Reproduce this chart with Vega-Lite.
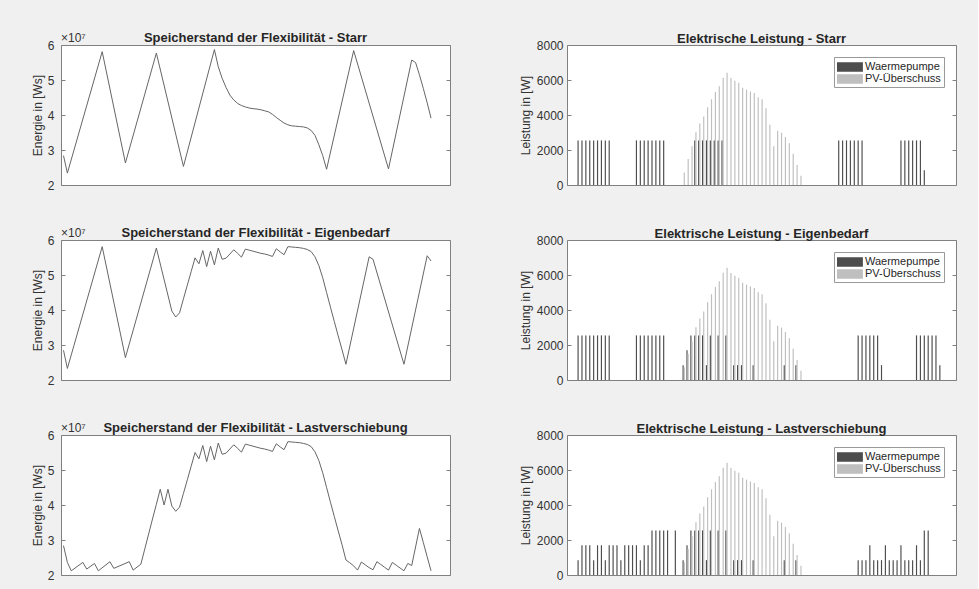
{
  "$schema": "https://vega.github.io/schema/vega-lite/v6.json",
  "background": "#f0f0f0",
  "padding": {"left": 30, "top": 31, "right": 21, "bottom": 14},
  "columns": 2,
  "spacing": {"row": 55, "column": 117},
  "bounds": "flush",
  "datasets": {
    "sp_starr": [
      {"k":1,"E":2.84e7},{"k":2,"E":2.34e7},{"k":11,"E":5.81e7},{"k":17,"E":2.63e7},{"k":25,"E":5.77e7},{"k":32,"E":2.53e7},{"k":40,"E":5.87e7},
      {"k":41,"E":5.38e7},{"k":42,"E":5.05e7},{"k":43,"E":4.79e7},{"k":44,"E":4.57e7},{"k":45,"E":4.43e7},{"k":46,"E":4.33e7},{"k":47,"E":4.27e7},{"k":48,"E":4.23e7},{"k":49,"E":4.20e7},{"k":50,"E":4.18e7},{"k":51,"E":4.17e7},{"k":52,"E":4.15e7},{"k":53,"E":4.12e7},{"k":54,"E":4.09e7},{"k":55,"E":4.02e7},{"k":56,"E":3.93e7},{"k":57,"E":3.85e7},{"k":58,"E":3.77e7},{"k":59,"E":3.72e7},{"k":60,"E":3.69e7},{"k":61,"E":3.68e7},{"k":62,"E":3.67e7},{"k":63,"E":3.66e7},{"k":64,"E":3.63e7},{"k":65,"E":3.56e7},{"k":66,"E":3.42e7},{"k":67,"E":3.15e7},{"k":68,"E":2.84e7},{"k":69,"E":2.45e7},
      {"k":76,"E":5.84e7},{"k":85,"E":2.46e7},{"k":91,"E":5.57e7},{"k":92,"E":5.50e7},{"k":93,"E":5.15e7},{"k":94,"E":4.76e7},{"k":95,"E":4.35e7},{"k":96,"E":3.91e7}
    ],
    "sp_eigen": [
      {"k":1,"E":2.85e7},{"k":2,"E":2.33e7},{"k":11,"E":5.81e7},{"k":17,"E":2.64e7},{"k":25,"E":5.77e7},{"k":29,"E":3.97e7},{"k":30,"E":3.80e7},{"k":31,"E":3.92e7},{"k":32,"E":4.32e7},{"k":33,"E":4.71e7},{"k":34,"E":5.10e7},{"k":35,"E":5.49e7},
      {"k":36,"E":5.32e7},{"k":37,"E":5.70e7},{"k":38,"E":5.24e7},{"k":39,"E":5.68e7},{"k":40,"E":5.29e7},{"k":41,"E":5.77e7},{"k":42,"E":5.45e7},{"k":43,"E":5.48e7},{"k":44,"E":5.60e7},{"k":45,"E":5.72e7},{"k":46,"E":5.62e7},{"k":47,"E":5.51e7},{"k":48,"E":5.74e7},
      {"k":49,"E":5.71e7},{"k":50,"E":5.68e7},{"k":51,"E":5.65e7},{"k":52,"E":5.62e7},{"k":53,"E":5.60e7},{"k":54,"E":5.57e7},{"k":55,"E":5.53e7},{"k":56,"E":5.75e7},{"k":57,"E":5.66e7},{"k":58,"E":5.58e7},{"k":59,"E":5.81e7},
      {"k":60,"E":5.80e7},{"k":61,"E":5.79e7},{"k":62,"E":5.78e7},{"k":63,"E":5.76e7},{"k":64,"E":5.73e7},{"k":65,"E":5.67e7},{"k":66,"E":5.52e7},{"k":67,"E":5.27e7},{"k":68,"E":4.92e7},{"k":69,"E":4.50e7},{"k":70,"E":4.08e7},{"k":71,"E":3.67e7},{"k":72,"E":3.26e7},{"k":73,"E":2.86e7},{"k":74,"E":2.45e7},
      {"k":80,"E":5.52e7},{"k":81,"E":5.45e7},{"k":89,"E":2.45e7},{"k":95,"E":5.55e7},{"k":96,"E":5.40e7}
    ],
    "sp_last": [
      {"k":1,"E":2.84e7},{"k":2,"E":2.36e7},{"k":3,"E":2.12e7},{"k":6,"E":2.36e7},{"k":7,"E":2.17e7},{"k":9,"E":2.33e7},{"k":10,"E":2.12e7},{"k":13,"E":2.38e7},{"k":14,"E":2.19e7},{"k":18,"E":2.38e7},{"k":19,"E":2.14e7},{"k":21,"E":2.31e7},
      {"k":22,"E":2.74e7},{"k":23,"E":3.17e7},{"k":24,"E":3.60e7},{"k":25,"E":4.02e7},{"k":26,"E":4.45e7},{"k":27,"E":4.00e7},{"k":28,"E":4.45e7},{"k":29,"E":3.97e7},{"k":30,"E":3.82e7},{"k":31,"E":3.94e7},
      {"k":32,"E":4.33e7},{"k":33,"E":4.72e7},{"k":34,"E":5.11e7},{"k":35,"E":5.50e7},
      {"k":36,"E":5.32e7},{"k":37,"E":5.70e7},{"k":38,"E":5.24e7},{"k":39,"E":5.68e7},{"k":40,"E":5.29e7},{"k":41,"E":5.77e7},{"k":42,"E":5.45e7},{"k":43,"E":5.48e7},{"k":44,"E":5.60e7},{"k":45,"E":5.72e7},{"k":46,"E":5.62e7},{"k":47,"E":5.51e7},{"k":48,"E":5.74e7},
      {"k":49,"E":5.71e7},{"k":50,"E":5.68e7},{"k":51,"E":5.65e7},{"k":52,"E":5.62e7},{"k":53,"E":5.60e7},{"k":54,"E":5.57e7},{"k":55,"E":5.53e7},{"k":56,"E":5.75e7},{"k":57,"E":5.66e7},{"k":58,"E":5.58e7},{"k":59,"E":5.81e7},
      {"k":60,"E":5.80e7},{"k":61,"E":5.79e7},{"k":62,"E":5.78e7},{"k":63,"E":5.76e7},{"k":64,"E":5.73e7},{"k":65,"E":5.67e7},{"k":66,"E":5.52e7},{"k":67,"E":5.27e7},{"k":68,"E":4.92e7},{"k":69,"E":4.50e7},{"k":70,"E":4.08e7},{"k":71,"E":3.67e7},{"k":72,"E":3.26e7},{"k":73,"E":2.86e7},{"k":74,"E":2.43e7},
      {"k":75,"E":2.35e7},{"k":76,"E":2.26e7},{"k":77,"E":2.14e7},{"k":78,"E":2.37e7},{"k":79,"E":2.29e7},{"k":80,"E":2.21e7},{"k":81,"E":2.15e7},{"k":82,"E":2.38e7},{"k":83,"E":2.30e7},{"k":84,"E":2.22e7},{"k":85,"E":2.14e7},{"k":86,"E":2.36e7},{"k":87,"E":2.28e7},{"k":88,"E":2.20e7},{"k":89,"E":2.12e7},{"k":90,"E":2.33e7},{"k":91,"E":2.27e7},{"k":92,"E":2.80e7},{"k":93,"E":3.33e7},{"k":94,"E":2.93e7},{"k":95,"E":2.52e7},{"k":96,"E":2.12e7}
    ],
    "p_starr": [
      {"k":3,"serie":"Waermepumpe","P":2550},{"k":4,"serie":"Waermepumpe","P":2550},{"k":5,"serie":"Waermepumpe","P":2550},{"k":6,"serie":"Waermepumpe","P":2550},{"k":7,"serie":"Waermepumpe","P":2550},{"k":8,"serie":"Waermepumpe","P":2550},{"k":9,"serie":"Waermepumpe","P":2550},{"k":10,"serie":"Waermepumpe","P":2550},{"k":11,"serie":"Waermepumpe","P":2550},
      {"k":18,"serie":"Waermepumpe","P":2550},{"k":19,"serie":"Waermepumpe","P":2550},{"k":20,"serie":"Waermepumpe","P":2550},{"k":21,"serie":"Waermepumpe","P":2550},{"k":22,"serie":"Waermepumpe","P":2550},{"k":23,"serie":"Waermepumpe","P":2550},{"k":24,"serie":"Waermepumpe","P":2550},{"k":25,"serie":"Waermepumpe","P":2550},
      {"k":33,"serie":"Waermepumpe","P":2550},{"k":34,"serie":"Waermepumpe","P":2550},{"k":35,"serie":"Waermepumpe","P":2550},{"k":36,"serie":"Waermepumpe","P":2550},{"k":37,"serie":"Waermepumpe","P":2550},{"k":38,"serie":"Waermepumpe","P":2550},{"k":39,"serie":"Waermepumpe","P":2550},{"k":40,"serie":"Waermepumpe","P":2550},
      {"k":70,"serie":"Waermepumpe","P":2550},{"k":71,"serie":"Waermepumpe","P":2550},{"k":72,"serie":"Waermepumpe","P":2550},{"k":73,"serie":"Waermepumpe","P":2550},{"k":74,"serie":"Waermepumpe","P":2550},{"k":75,"serie":"Waermepumpe","P":2550},{"k":76,"serie":"Waermepumpe","P":2550},
      {"k":86,"serie":"Waermepumpe","P":2550},{"k":87,"serie":"Waermepumpe","P":2550},{"k":88,"serie":"Waermepumpe","P":2550},{"k":89,"serie":"Waermepumpe","P":2550},{"k":90,"serie":"Waermepumpe","P":2550},{"k":91,"serie":"Waermepumpe","P":2550},{"k":92,"serie":"Waermepumpe","P":850},
      {"k":30,"serie":"PV-Überschuss","P":720},{"k":31,"serie":"PV-Überschuss","P":1490},{"k":32,"serie":"PV-Überschuss","P":2210},{"k":33,"serie":"PV-Überschuss","P":3010},{"k":34,"serie":"PV-Überschuss","P":3520},{"k":35,"serie":"PV-Überschuss","P":3920},{"k":36,"serie":"PV-Überschuss","P":4440},{"k":37,"serie":"PV-Überschuss","P":4900},{"k":38,"serie":"PV-Überschuss","P":5310},{"k":39,"serie":"PV-Überschuss","P":5640},{"k":40,"serie":"PV-Überschuss","P":6130},
      {"k":41,"serie":"PV-Überschuss","P":6420},{"k":42,"serie":"PV-Überschuss","P":6110},{"k":43,"serie":"PV-Überschuss","P":5960},{"k":44,"serie":"PV-Überschuss","P":5850},{"k":45,"serie":"PV-Überschuss","P":5560},{"k":46,"serie":"PV-Überschuss","P":5450},{"k":47,"serie":"PV-Überschuss","P":5350},{"k":48,"serie":"PV-Überschuss","P":5260},{"k":49,"serie":"PV-Überschuss","P":5010},{"k":50,"serie":"PV-Überschuss","P":4900},
      {"k":51,"serie":"PV-Überschuss","P":4380},{"k":52,"serie":"PV-Überschuss","P":3450},{"k":53,"serie":"PV-Überschuss","P":2210},{"k":54,"serie":"PV-Überschuss","P":3100},{"k":55,"serie":"PV-Überschuss","P":2990},{"k":56,"serie":"PV-Überschuss","P":2740},{"k":57,"serie":"PV-Überschuss","P":2380},{"k":58,"serie":"PV-Überschuss","P":1790},{"k":59,"serie":"PV-Überschuss","P":1140},{"k":60,"serie":"PV-Überschuss","P":530}
    ],
    "p_eigen": [
      {"k":3,"serie":"Waermepumpe","P":2550},{"k":4,"serie":"Waermepumpe","P":2550},{"k":5,"serie":"Waermepumpe","P":2550},{"k":6,"serie":"Waermepumpe","P":2550},{"k":7,"serie":"Waermepumpe","P":2550},{"k":8,"serie":"Waermepumpe","P":2550},{"k":9,"serie":"Waermepumpe","P":2550},{"k":10,"serie":"Waermepumpe","P":2550},{"k":11,"serie":"Waermepumpe","P":2550},
      {"k":18,"serie":"Waermepumpe","P":2550},{"k":19,"serie":"Waermepumpe","P":2550},{"k":20,"serie":"Waermepumpe","P":2550},{"k":21,"serie":"Waermepumpe","P":2550},{"k":22,"serie":"Waermepumpe","P":2550},{"k":23,"serie":"Waermepumpe","P":2550},{"k":24,"serie":"Waermepumpe","P":2550},{"k":25,"serie":"Waermepumpe","P":2550},
      {"k":30,"serie":"Waermepumpe","P":850},{"k":31,"serie":"Waermepumpe","P":1700},{"k":32,"serie":"Waermepumpe","P":2550},{"k":33,"serie":"Waermepumpe","P":2550},{"k":34,"serie":"Waermepumpe","P":2550},{"k":35,"serie":"Waermepumpe","P":2550},{"k":36,"serie":"Waermepumpe","P":850},{"k":37,"serie":"Waermepumpe","P":2550},{"k":39,"serie":"Waermepumpe","P":2550},{"k":41,"serie":"Waermepumpe","P":2550},
      {"k":43,"serie":"Waermepumpe","P":850},{"k":44,"serie":"Waermepumpe","P":850},{"k":45,"serie":"Waermepumpe","P":850},{"k":48,"serie":"Waermepumpe","P":850},{"k":56,"serie":"Waermepumpe","P":850},{"k":59,"serie":"Waermepumpe","P":850},
      {"k":75,"serie":"Waermepumpe","P":2550},{"k":76,"serie":"Waermepumpe","P":2550},{"k":77,"serie":"Waermepumpe","P":2550},{"k":78,"serie":"Waermepumpe","P":2550},{"k":79,"serie":"Waermepumpe","P":2550},{"k":80,"serie":"Waermepumpe","P":2550},{"k":81,"serie":"Waermepumpe","P":850},
      {"k":90,"serie":"Waermepumpe","P":2550},{"k":91,"serie":"Waermepumpe","P":2550},{"k":92,"serie":"Waermepumpe","P":2550},{"k":93,"serie":"Waermepumpe","P":2550},{"k":94,"serie":"Waermepumpe","P":2550},{"k":95,"serie":"Waermepumpe","P":2550},{"k":96,"serie":"Waermepumpe","P":850},
      {"k":30,"serie":"PV-Überschuss","P":720},{"k":31,"serie":"PV-Überschuss","P":1490},{"k":32,"serie":"PV-Überschuss","P":2210},{"k":33,"serie":"PV-Überschuss","P":3010},{"k":34,"serie":"PV-Überschuss","P":3520},{"k":35,"serie":"PV-Überschuss","P":3920},{"k":36,"serie":"PV-Überschuss","P":4440},{"k":37,"serie":"PV-Überschuss","P":4900},{"k":38,"serie":"PV-Überschuss","P":5310},{"k":39,"serie":"PV-Überschuss","P":5640},{"k":40,"serie":"PV-Überschuss","P":6130},
      {"k":41,"serie":"PV-Überschuss","P":6420},{"k":42,"serie":"PV-Überschuss","P":6110},{"k":43,"serie":"PV-Überschuss","P":5960},{"k":44,"serie":"PV-Überschuss","P":5850},{"k":45,"serie":"PV-Überschuss","P":5560},{"k":46,"serie":"PV-Überschuss","P":5450},{"k":47,"serie":"PV-Überschuss","P":5350},{"k":48,"serie":"PV-Überschuss","P":5260},{"k":49,"serie":"PV-Überschuss","P":5010},{"k":50,"serie":"PV-Überschuss","P":4900},
      {"k":51,"serie":"PV-Überschuss","P":4380},{"k":52,"serie":"PV-Überschuss","P":3450},{"k":53,"serie":"PV-Überschuss","P":2210},{"k":54,"serie":"PV-Überschuss","P":3100},{"k":55,"serie":"PV-Überschuss","P":2990},{"k":56,"serie":"PV-Überschuss","P":2740},{"k":57,"serie":"PV-Überschuss","P":2380},{"k":58,"serie":"PV-Überschuss","P":1790},{"k":59,"serie":"PV-Überschuss","P":1140},{"k":60,"serie":"PV-Überschuss","P":530}
    ],
    "p_last": [
      {"k":3,"serie":"Waermepumpe","P":850},{"k":4,"serie":"Waermepumpe","P":1700},{"k":5,"serie":"Waermepumpe","P":1700},{"k":6,"serie":"Waermepumpe","P":1700},{"k":7,"serie":"Waermepumpe","P":850},{"k":8,"serie":"Waermepumpe","P":1700},{"k":9,"serie":"Waermepumpe","P":1700},{"k":10,"serie":"Waermepumpe","P":850},
      {"k":11,"serie":"Waermepumpe","P":1700},{"k":12,"serie":"Waermepumpe","P":1700},{"k":13,"serie":"Waermepumpe","P":1700},{"k":14,"serie":"Waermepumpe","P":850},{"k":15,"serie":"Waermepumpe","P":1700},{"k":16,"serie":"Waermepumpe","P":1700},{"k":17,"serie":"Waermepumpe","P":1700},{"k":18,"serie":"Waermepumpe","P":1700},{"k":19,"serie":"Waermepumpe","P":850},{"k":20,"serie":"Waermepumpe","P":1700},{"k":21,"serie":"Waermepumpe","P":1700},
      {"k":22,"serie":"Waermepumpe","P":2550},{"k":23,"serie":"Waermepumpe","P":2550},{"k":24,"serie":"Waermepumpe","P":2550},{"k":25,"serie":"Waermepumpe","P":2550},{"k":26,"serie":"Waermepumpe","P":2550},{"k":28,"serie":"Waermepumpe","P":2550},
      {"k":30,"serie":"Waermepumpe","P":850},{"k":31,"serie":"Waermepumpe","P":1700},{"k":32,"serie":"Waermepumpe","P":2550},{"k":33,"serie":"Waermepumpe","P":2550},{"k":34,"serie":"Waermepumpe","P":2550},{"k":35,"serie":"Waermepumpe","P":2550},{"k":36,"serie":"Waermepumpe","P":850},{"k":37,"serie":"Waermepumpe","P":2550},{"k":39,"serie":"Waermepumpe","P":2550},{"k":41,"serie":"Waermepumpe","P":2550},
      {"k":43,"serie":"Waermepumpe","P":850},{"k":44,"serie":"Waermepumpe","P":850},{"k":45,"serie":"Waermepumpe","P":850},{"k":48,"serie":"Waermepumpe","P":850},{"k":56,"serie":"Waermepumpe","P":850},{"k":59,"serie":"Waermepumpe","P":850},
      {"k":75,"serie":"Waermepumpe","P":850},{"k":76,"serie":"Waermepumpe","P":850},{"k":77,"serie":"Waermepumpe","P":850},{"k":78,"serie":"Waermepumpe","P":1700},{"k":79,"serie":"Waermepumpe","P":850},{"k":80,"serie":"Waermepumpe","P":850},{"k":81,"serie":"Waermepumpe","P":850},{"k":82,"serie":"Waermepumpe","P":1700},
      {"k":83,"serie":"Waermepumpe","P":850},{"k":84,"serie":"Waermepumpe","P":850},{"k":85,"serie":"Waermepumpe","P":850},{"k":86,"serie":"Waermepumpe","P":1700},{"k":87,"serie":"Waermepumpe","P":850},{"k":88,"serie":"Waermepumpe","P":850},{"k":89,"serie":"Waermepumpe","P":850},{"k":90,"serie":"Waermepumpe","P":1700},{"k":91,"serie":"Waermepumpe","P":850},{"k":92,"serie":"Waermepumpe","P":2550},{"k":93,"serie":"Waermepumpe","P":2550},
      {"k":30,"serie":"PV-Überschuss","P":720},{"k":31,"serie":"PV-Überschuss","P":1490},{"k":32,"serie":"PV-Überschuss","P":2210},{"k":33,"serie":"PV-Überschuss","P":3010},{"k":34,"serie":"PV-Überschuss","P":3520},{"k":35,"serie":"PV-Überschuss","P":3920},{"k":36,"serie":"PV-Überschuss","P":4440},{"k":37,"serie":"PV-Überschuss","P":4900},{"k":38,"serie":"PV-Überschuss","P":5310},{"k":39,"serie":"PV-Überschuss","P":5640},{"k":40,"serie":"PV-Überschuss","P":6130},
      {"k":41,"serie":"PV-Überschuss","P":6420},{"k":42,"serie":"PV-Überschuss","P":6110},{"k":43,"serie":"PV-Überschuss","P":5960},{"k":44,"serie":"PV-Überschuss","P":5850},{"k":45,"serie":"PV-Überschuss","P":5560},{"k":46,"serie":"PV-Überschuss","P":5450},{"k":47,"serie":"PV-Überschuss","P":5350},{"k":48,"serie":"PV-Überschuss","P":5260},{"k":49,"serie":"PV-Überschuss","P":5010},{"k":50,"serie":"PV-Überschuss","P":4900},
      {"k":51,"serie":"PV-Überschuss","P":4380},{"k":52,"serie":"PV-Überschuss","P":3450},{"k":53,"serie":"PV-Überschuss","P":2210},{"k":54,"serie":"PV-Überschuss","P":3100},{"k":55,"serie":"PV-Überschuss","P":2990},{"k":56,"serie":"PV-Überschuss","P":2740},{"k":57,"serie":"PV-Überschuss","P":2380},{"k":58,"serie":"PV-Überschuss","P":1790},{"k":59,"serie":"PV-Überschuss","P":1140},{"k":60,"serie":"PV-Überschuss","P":530}
    ]
  },
  "concat": [
    {
      "width": 389, "height": 140,
      "title": {"text": "Speicherstand der Flexibilität - Starr", "offset": -13},
      "layer": [
        {"data": {"name": "sp_starr"}, "mark": {"type": "line", "color": "#666666", "strokeWidth": 1},
         "encoding": {
           "x": {"field": "k", "type": "quantitative", "scale": {"domain": [0.35, 100.9], "nice": false, "zero": false}, "axis": null},
           "y": {"field": "E", "type": "quantitative", "scale": {"domain": [20000000, 60000000], "nice": false, "zero": false},
                 "axis": {"title": "Energie in [Ws]", "values": [20000000, 30000000, 40000000, 50000000, 60000000], "labelExpr": "format(datum.value / 10000000, 'd')", "labelOverlap": false, "labelPadding": 11, "titlePadding": 3}}
         }},
        {"data": {"values": [{"t": "×10⁷"}]}, "mark": {"type": "text", "align": "left", "baseline": "alphabetic", "dy": -3, "fontSize": 12, "color": "#333333", "font": "Liberation Sans"},
         "encoding": {"x": {"datum": 0.35, "type": "quantitative"}, "y": {"datum": 60000000, "type": "quantitative", "scale": {"domain": [20000000, 60000000], "nice": false, "zero": false}, "axis": null}, "text": {"field": "t"}}},
        {"data": {"values": [{}]}, "mark": {"type": "rule", "opacity": 0},
         "encoding": {"y": {"datum": 20000000, "type": "quantitative", "scale": {"domain": [20000000, 60000000], "nice": false, "zero": false},
                            "axis": {"orient": "right", "labels": false, "title": null, "values": [20000000, 30000000, 40000000, 50000000, 60000000]}}}}
      ],
      "resolve": {"scale": {"y": "independent"}}
    },
    {
      "width": 389, "height": 140,
      "title": {"text": "Elektrische Leistung - Starr", "offset": -7},
      "layer": [
        {"data": {"name": "p_starr"}, "mark": {"type": "bar"},
         "encoding": {
           "x": {"field": "k", "type": "ordinal", "scale": {"domain": [1,2,3,4,5,6,7,8,9,10,11,12,13,14,15,16,17,18,19,20,21,22,23,24,25,26,27,28,29,30,31,32,33,34,35,36,37,38,39,40,41,42,43,44,45,46,47,48,49,50,51,52,53,54,55,56,57,58,59,60,61,62,63,64,65,66,67,68,69,70,71,72,73,74,75,76,77,78,79,80,81,82,83,84,85,86,87,88,89,90,91,92,93,94,95,96,97,98,99], "paddingInner": 0.4, "paddingOuter": 0.7}, "axis": null},
           "xOffset": {"field": "serie", "type": "nominal", "scale": {"domain": ["Waermepumpe", "PV-Überschuss"], "paddingInner": 0, "paddingOuter": 0}},
           "y": {"field": "P", "type": "quantitative", "scale": {"domain": [0, 8000], "nice": false}, "axis": {"title": "Leistung in [W]", "values": [0, 2000, 4000, 6000, 8000], "format": "d", "labelOverlap": false, "labelPadding": 8, "titlePadding": 4}},
           "color": {"field": "serie", "type": "nominal", "scale": {"domain": ["Waermepumpe", "PV-Überschuss"], "range": ["#4d4d4d", "#bfbfbf"]}, "legend": {"title": null}}
         }},
        {"data": {"values": [{}]}, "mark": {"type": "rule", "opacity": 0},
         "encoding": {"y": {"datum": 0, "type": "quantitative", "scale": {"domain": [0, 8000], "nice": false},
                            "axis": {"orient": "right", "labels": false, "title": null, "values": [0, 2000, 4000, 6000, 8000]}}}}
      ],
      "resolve": {"scale": {"y": "independent"}}
    },
    {
      "width": 389, "height": 140,
      "title": {"text": "Speicherstand der Flexibilität - Eigenbedarf", "offset": -13},
      "layer": [
        {"data": {"name": "sp_eigen"}, "mark": {"type": "line", "color": "#666666", "strokeWidth": 1},
         "encoding": {
           "x": {"field": "k", "type": "quantitative", "scale": {"domain": [0.35, 100.9], "nice": false, "zero": false}, "axis": null},
           "y": {"field": "E", "type": "quantitative", "scale": {"domain": [20000000, 60000000], "nice": false, "zero": false},
                 "axis": {"title": "Energie in [Ws]", "values": [20000000, 30000000, 40000000, 50000000, 60000000], "labelExpr": "format(datum.value / 10000000, 'd')", "labelOverlap": false, "labelPadding": 11, "titlePadding": 3}}
         }},
        {"data": {"values": [{"t": "×10⁷"}]}, "mark": {"type": "text", "align": "left", "baseline": "alphabetic", "dy": -3, "fontSize": 12, "color": "#333333", "font": "Liberation Sans"},
         "encoding": {"x": {"datum": 0.35, "type": "quantitative"}, "y": {"datum": 60000000, "type": "quantitative", "scale": {"domain": [20000000, 60000000], "nice": false, "zero": false}, "axis": null}, "text": {"field": "t"}}},
        {"data": {"values": [{}]}, "mark": {"type": "rule", "opacity": 0},
         "encoding": {"y": {"datum": 20000000, "type": "quantitative", "scale": {"domain": [20000000, 60000000], "nice": false, "zero": false},
                            "axis": {"orient": "right", "labels": false, "title": null, "values": [20000000, 30000000, 40000000, 50000000, 60000000]}}}}
      ],
      "resolve": {"scale": {"y": "independent"}}
    },
    {
      "width": 389, "height": 140,
      "title": {"text": "Elektrische Leistung - Eigenbedarf", "offset": -7},
      "layer": [
        {"data": {"name": "p_eigen"}, "mark": {"type": "bar"},
         "encoding": {
           "x": {"field": "k", "type": "ordinal", "scale": {"domain": [1,2,3,4,5,6,7,8,9,10,11,12,13,14,15,16,17,18,19,20,21,22,23,24,25,26,27,28,29,30,31,32,33,34,35,36,37,38,39,40,41,42,43,44,45,46,47,48,49,50,51,52,53,54,55,56,57,58,59,60,61,62,63,64,65,66,67,68,69,70,71,72,73,74,75,76,77,78,79,80,81,82,83,84,85,86,87,88,89,90,91,92,93,94,95,96,97,98,99], "paddingInner": 0.4, "paddingOuter": 0.7}, "axis": null},
           "xOffset": {"field": "serie", "type": "nominal", "scale": {"domain": ["Waermepumpe", "PV-Überschuss"], "paddingInner": 0, "paddingOuter": 0}},
           "y": {"field": "P", "type": "quantitative", "scale": {"domain": [0, 8000], "nice": false}, "axis": {"title": "Leistung in [W]", "values": [0, 2000, 4000, 6000, 8000], "format": "d", "labelOverlap": false, "labelPadding": 8, "titlePadding": 4}},
           "color": {"field": "serie", "type": "nominal", "scale": {"domain": ["Waermepumpe", "PV-Überschuss"], "range": ["#4d4d4d", "#bfbfbf"]}, "legend": {"title": null}}
         }},
        {"data": {"values": [{}]}, "mark": {"type": "rule", "opacity": 0},
         "encoding": {"y": {"datum": 0, "type": "quantitative", "scale": {"domain": [0, 8000], "nice": false},
                            "axis": {"orient": "right", "labels": false, "title": null, "values": [0, 2000, 4000, 6000, 8000]}}}}
      ],
      "resolve": {"scale": {"y": "independent"}}
    },
    {
      "width": 389, "height": 140,
      "title": {"text": "Speicherstand der Flexibilität - Lastverschiebung", "offset": -13},
      "layer": [
        {"data": {"name": "sp_last"}, "mark": {"type": "line", "color": "#666666", "strokeWidth": 1},
         "encoding": {
           "x": {"field": "k", "type": "quantitative", "scale": {"domain": [0.35, 100.9], "nice": false, "zero": false}, "axis": null},
           "y": {"field": "E", "type": "quantitative", "scale": {"domain": [20000000, 60000000], "nice": false, "zero": false},
                 "axis": {"title": "Energie in [Ws]", "values": [20000000, 30000000, 40000000, 50000000, 60000000], "labelExpr": "format(datum.value / 10000000, 'd')", "labelOverlap": false, "labelPadding": 11, "titlePadding": 3}}
         }},
        {"data": {"values": [{"t": "×10⁷"}]}, "mark": {"type": "text", "align": "left", "baseline": "alphabetic", "dy": -3, "fontSize": 12, "color": "#333333", "font": "Liberation Sans"},
         "encoding": {"x": {"datum": 0.35, "type": "quantitative"}, "y": {"datum": 60000000, "type": "quantitative", "scale": {"domain": [20000000, 60000000], "nice": false, "zero": false}, "axis": null}, "text": {"field": "t"}}},
        {"data": {"values": [{}]}, "mark": {"type": "rule", "opacity": 0},
         "encoding": {"y": {"datum": 20000000, "type": "quantitative", "scale": {"domain": [20000000, 60000000], "nice": false, "zero": false},
                            "axis": {"orient": "right", "labels": false, "title": null, "values": [20000000, 30000000, 40000000, 50000000, 60000000]}}}}
      ],
      "resolve": {"scale": {"y": "independent"}}
    },
    {
      "width": 389, "height": 140,
      "title": {"text": "Elektrische Leistung - Lastverschiebung", "offset": -7},
      "layer": [
        {"data": {"name": "p_last"}, "mark": {"type": "bar"},
         "encoding": {
           "x": {"field": "k", "type": "ordinal", "scale": {"domain": [1,2,3,4,5,6,7,8,9,10,11,12,13,14,15,16,17,18,19,20,21,22,23,24,25,26,27,28,29,30,31,32,33,34,35,36,37,38,39,40,41,42,43,44,45,46,47,48,49,50,51,52,53,54,55,56,57,58,59,60,61,62,63,64,65,66,67,68,69,70,71,72,73,74,75,76,77,78,79,80,81,82,83,84,85,86,87,88,89,90,91,92,93,94,95,96,97,98,99], "paddingInner": 0.4, "paddingOuter": 0.7}, "axis": null},
           "xOffset": {"field": "serie", "type": "nominal", "scale": {"domain": ["Waermepumpe", "PV-Überschuss"], "paddingInner": 0, "paddingOuter": 0}},
           "y": {"field": "P", "type": "quantitative", "scale": {"domain": [0, 8000], "nice": false}, "axis": {"title": "Leistung in [W]", "values": [0, 2000, 4000, 6000, 8000], "format": "d", "labelOverlap": false, "labelPadding": 8, "titlePadding": 4}},
           "color": {"field": "serie", "type": "nominal", "scale": {"domain": ["Waermepumpe", "PV-Überschuss"], "range": ["#4d4d4d", "#bfbfbf"]}, "legend": {"title": null}}
         }},
        {"data": {"values": [{}]}, "mark": {"type": "rule", "opacity": 0},
         "encoding": {"y": {"datum": 0, "type": "quantitative", "scale": {"domain": [0, 8000], "nice": false},
                            "axis": {"orient": "right", "labels": false, "title": null, "values": [0, 2000, 4000, 6000, 8000]}}}}
      ],
      "resolve": {"scale": {"y": "independent"}}
    }
  ],
  "resolve": {"scale": {"color": "independent"}, "legend": {"color": "independent"}},
  "config": {
    "font": "Liberation Sans",
    "view": {"stroke": "#808080", "strokeWidth": 1, "fill": "white"},
    "axis": {"labelFont": "Liberation Sans", "labelFontSize": 12, "labelColor": "#333333", "titleFont": "Liberation Sans", "titleFontSize": 12, "titleFontWeight": "normal", "titleColor": "#333333", "domain": false, "grid": false, "tickColor": "#808080", "tickSize": -4, "labelFlush": false, "labelOverlap": false},
    "title": {"font": "Liberation Sans", "fontSize": 13, "fontWeight": "bold", "color": "#262626", "anchor": "middle"},
    "legend": {"orient": "top-right", "offset": 12, "fillColor": "white", "strokeColor": "#999999", "padding": 3, "labelFont": "Liberation Sans", "labelFontSize": 11, "labelColor": "#262626", "symbolType": "M-1,-0.68H2.7V0.68H-1Z", "symbolSize": 196, "symbolStrokeWidth": 0, "symbolOpacity": 1, "labelOffset": 14, "rowPadding": 0}
  }
}
